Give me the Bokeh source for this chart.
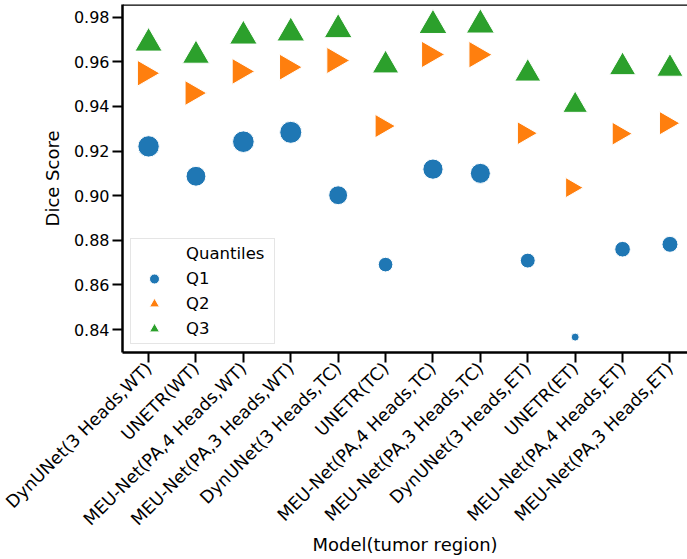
import math
from bokeh.plotting import figure
from bokeh.models import (Range1d, FixedTicker, PrintfTickFormatter, Legend, LegendItem,
                          Span, ColumnDataSource)
from bokeh.transform import dodge
from bokeh.embed import file_html
from bokeh.resources import INLINE

models = ["DynUNet(3 Heads,WT)", "UNETR(WT)", "MEU-Net(PA,4 Heads,WT)", "MEU-Net(PA,3 Heads,WT)",
          "DynUNet(3 Heads,TC)", "UNETR(TC)", "MEU-Net(PA,4 Heads,TC)", "MEU-Net(PA,3 Heads,TC)",
          "DynUNet(3 Heads,ET)", "UNETR(ET)", "MEU-Net(PA,4 Heads,ET)", "MEU-Net(PA,3 Heads,ET)"]
q1 = [0.9221, 0.9087, 0.9242, 0.9284, 0.9002, 0.8691, 0.9119, 0.9100, 0.8709, 0.8366, 0.8760, 0.8782]
q2 = [0.9549, 0.9460, 0.9557, 0.9576, 0.9606, 0.9312, 0.9633, 0.9632, 0.9280, 0.9036, 0.9278, 0.9325]
q3 = [0.9700, 0.9645, 0.9732, 0.9746, 0.9761, 0.9601, 0.9780, 0.9782, 0.9564, 0.9422, 0.9593, 0.9586]
quantiles = ["Q1", "Q2", "Q3"]
y_ticks = [0.84, 0.86, 0.88, 0.90, 0.92, 0.94, 0.96, 0.98]

colors = ["#1f77b4", "#ff7f0e", "#2ca02c"]
FONT = "DejaVu Sans"

X0, X1 = -0.55, 11.37
Y0, Y1 = 0.8297, 0.9857
FRAME_W, FRAME_H = 565, 348

all_vals = q1 + q2 + q3
vmin, vmax = min(all_vals), max(all_vals)


def diam(v):
    return math.sqrt(64 + (v - vmin) / (vmax - vmin) * 650)


xs = list(range(len(models)))

p = figure(width=687, height=559, output_backend="svg", toolbar_location=None,
           x_range=Range1d(X0, X1), y_range=Range1d(Y0, Y1),
           min_border_left=122, min_border_right=0, min_border_top=4, min_border_bottom=207)
p.grid.visible = False
p.outline_line_color = None
p.background_fill_color = "white"

# triangle centroid -> bbox-centre correction (about 3.7 px)
dy = -3.7 * (Y1 - Y0) / FRAME_H
dx = -3.7 * (X1 - X0) / FRAME_W

src1 = ColumnDataSource(dict(x=xs, y=q1, s=[diam(v) for v in q1]))
src2 = ColumnDataSource(dict(x=xs, y=q2, s=[1.05 * diam(v) for v in q2]))
src3 = ColumnDataSource(dict(x=xs, y=q3, s=[1.05 * diam(v) for v in q3]))

title_r = p.scatter(x=[], y=[], size=10, fill_alpha=0, line_alpha=0)
r1 = p.scatter("x", "y", source=src1, size="s", marker="circle",
               fill_color=colors[0], line_color="white", line_width=1)
r2 = p.scatter(dodge("x", dx, range=p.x_range), "y", source=src2, size="s", marker="triangle",
               angle=-math.pi / 2, fill_color=colors[1], line_color="white", line_width=1)
r3 = p.scatter("x", dodge("y", dy, range=p.y_range), source=src3, size="s", marker="triangle",
               fill_color=colors[2], line_color="white", line_width=1)

# axes
for ax in (p.xaxis[0], p.yaxis[0]):
    ax.axis_line_width = 2.5
    ax.axis_line_color = "black"
    ax.major_tick_line_width = 2
    ax.major_tick_line_color = "black"
    ax.major_tick_out = 10
    ax.major_tick_in = 0
    ax.minor_tick_out = 0
    ax.minor_tick_in = 0
    ax.major_label_text_font = FONT
    ax.major_label_text_font_size = "16px"
    ax.major_label_text_color = "black"
    ax.axis_label_text_font = FONT
    ax.axis_label_text_font_size = "18px"
    ax.axis_label_text_font_style = "normal"
    ax.axis_label_text_color = "black"
    ax.major_label_standoff = 3

p.xaxis.ticker = FixedTicker(ticks=xs)
p.xaxis.major_label_overrides = {i: m for i, m in enumerate(models)}
p.xaxis.major_label_orientation = math.pi / 4
p.xaxis.major_label_text_font_size = "17.5px"
p.xaxis.axis_label = "Model(tumor region)"
p.xaxis.axis_label_standoff = -5
p.xaxis.major_label_standoff = 3

p.yaxis.ticker = FixedTicker(ticks=y_ticks)
p.yaxis.formatter = PrintfTickFormatter(format="%.2f")
p.yaxis.axis_label = "Dice Score"
p.yaxis.axis_label_standoff = 8

p.add_layout(Span(location=Y1, dimension="width", line_color="black", line_width=2.5))

legend = Legend(items=[LegendItem(label="Quantiles", renderers=[title_r]),
                       LegendItem(label=quantiles[0], renderers=[r1]),
                       LegendItem(label=quantiles[1], renderers=[r2]),
                       LegendItem(label=quantiles[2], renderers=[r3])],
                location="bottom_left", margin=8, padding=2, spacing=0,
                glyph_height=25, glyph_width=42, label_standoff=11, label_width=86,
                label_text_font=FONT, label_text_font_size="16.5px", label_text_color="black",
                border_line_color="#cccccc", border_line_width=1.5,
                background_fill_alpha=0.8)
p.add_layout(legend, "center")

open("out.html", "w").write(file_html(p, INLINE))
